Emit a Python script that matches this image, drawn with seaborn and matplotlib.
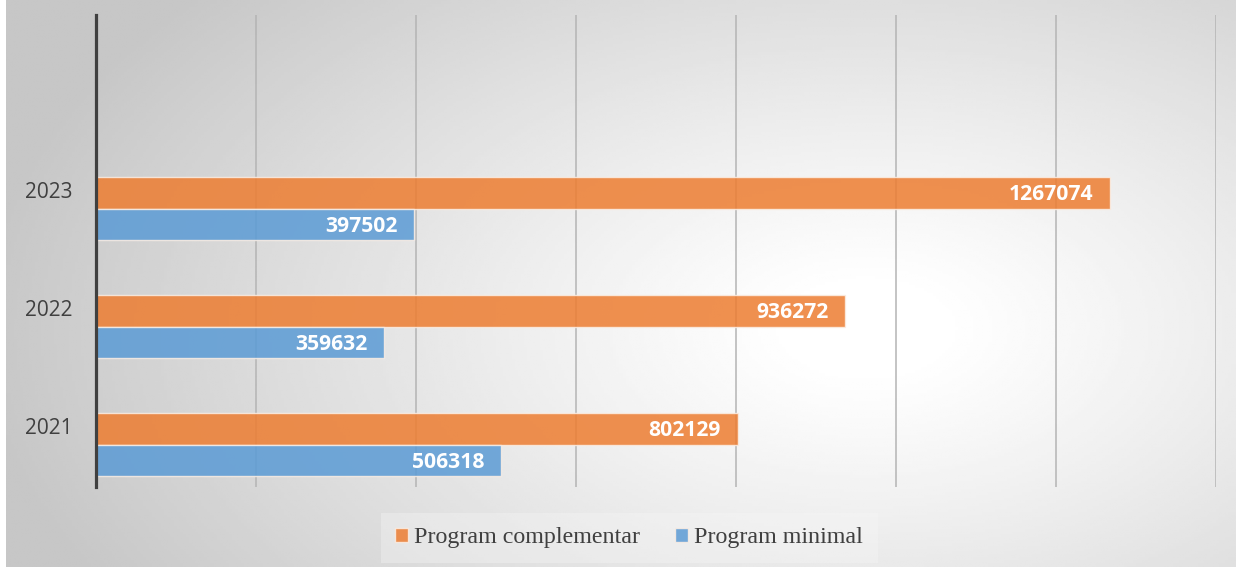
#!/usr/bin/env python3
"""
Program complementar vs program minimal, by year (horizontal bars).
"""

import numpy as np
import pandas as pd
import matplotlib
matplotlib.use("Agg")
import matplotlib.pyplot as plt
import seaborn as sns

# Data
years = ["2023", "2022", "2021"]
series_names = ["Program complementar", "Program minimal"]
complementar = [1267074, 936272, 802129]
minimal = [397502, 359632, 506318]

colors = ["#ED7D31", "#5B9BD5"]

df = pd.DataFrame({
    "year": years * 2,
    "series": [series_names[0]] * len(years) + [series_names[1]] * len(years),
    "value": complementar + minimal,
})

sns.set_style("white")
plt.rcParams["font.family"] = ["Open Sans", "DejaVu Sans"]

fig = plt.figure(figsize=(12.36, 5.67), dpi=100)

# Background with a soft radial gradient (white centre, grey edges)
bg = fig.add_axes([6 / 1236, 0, 1 - 6 / 1236, 1], zorder=-10)
gx, gy = np.meshgrid(np.linspace(0, 1, 400), np.linspace(0, 1, 200))
r = np.sqrt(((gx - 0.70) / 0.72) ** 2 + ((gy - 0.58) / 0.9) ** 2)
shade = 1.0 - 0.22 * np.clip((r - 0.08) / 0.92, 0, 1) ** 1.1
bg.imshow(shade, cmap="gray", vmin=0, vmax=1, aspect="auto",
          extent=[0, 1, 0, 1], origin="upper")
bg.axis("off")

ax = fig.add_axes([96 / 1236, 1 - 487 / 567, (1216 - 96) / 1236, (487 - 15) / 567])
ax.patch.set_alpha(0)

sns.barplot(data=df, x="value", y="year", hue="series", orient="h",
            order=years, hue_order=series_names, palette=colors,
            saturation=1, width=0.54, gap=0.0, alpha=0.85,
            edgecolor="#fbeee4", linewidth=1, ax=ax, zorder=3)

ax.set_xlim(0, 1400000)
ax.set_ylim(2.36, -1.64)
ax.set_xticks(np.arange(0, 1400001, 200000))
ax.set_xticklabels([])
ax.xaxis.grid(True, color="#b4b4b4", linewidth=1.1, zorder=0)
ax.set_axisbelow(True)
ax.set_xlabel("")
ax.set_ylabel("")

# Year labels sit slightly above the group centre
ax.set_yticks(np.arange(len(years)) - 0.157)
ax.set_yticklabels(years, fontsize=15, color="#404040")
ax.tick_params(axis="y", length=0, pad=17)
ax.tick_params(axis="x", length=0)

for side in ["top", "right", "bottom"]:
    ax.spines[side].set_visible(False)
ax.spines["left"].set_color("#404040")
ax.spines["left"].set_linewidth(2.3)
ax.spines["left"].set_zorder(5)

# Value labels inside the bar ends
for container in ax.containers:
    for patch in container:
        w = patch.get_width()
        yc = patch.get_y() + patch.get_height() / 2
        ax.annotate(f"{int(round(w))}", (w, yc), xytext=(-12, -1.2),
                    textcoords="offset points", ha="right", va="center",
                    color="white", fontsize=15.2, fontweight="bold", zorder=6)

# Legend
handles, labels = ax.get_legend_handles_labels()
ax.legend_.remove()
leg = fig.legend(handles, labels, loc="center", bbox_to_anchor=(0.509, 1 - 538 / 567),
                 ncol=2, frameon=True, fancybox=False, handlelength=0.55,
                 handleheight=0.55, handletextpad=0.25, columnspacing=1.45,
                 prop={"family": "Liberation Serif", "size": 17.3},
                 borderpad=0.6)
leg.get_frame().set_facecolor("#f7f7f7")
leg.get_frame().set_edgecolor("none")
leg.get_frame().set_alpha(0.35)
for t in leg.get_texts():
    t.set_color("#404040")

fig.savefig("out.png", dpi=100)
plt.close(fig)
